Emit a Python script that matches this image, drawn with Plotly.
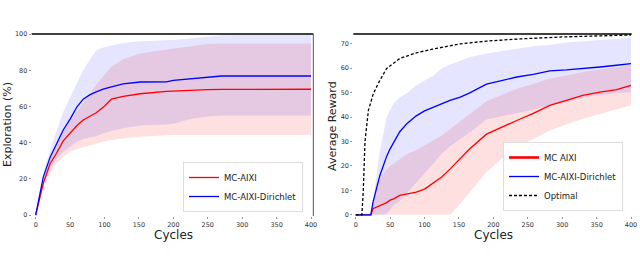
import plotly.graph_objects as go

# ---------------- Left panel: Exploration ----------------
left_x = [0, 11, 21, 30, 40, 50, 60, 69, 79, 88, 98, 110, 127, 152, 190, 200, 225, 250, 270, 300, 350, 400]
left_red_mean = [0, 17.5, 28.5, 34, 41, 45.5, 49.5, 52.5, 54.5, 56.5, 59.5, 64, 65.5, 67, 68.3, 68.5, 69, 69.3, 69.4, 69.5, 69.5, 69.5]
left_red_upper = [0, 19, 31, 38, 46, 52, 57, 62, 67, 72, 76.5, 82, 86, 89.3, 91.5, 92, 93.3, 94.5, 94.8, 94.8, 94.8, 94.8]
left_red_lower = [0, 15, 23, 28.5, 32.2, 35, 36.5, 37.5, 38.8, 39.6, 40.5, 41.4, 42.4, 43.3, 44, 44.2, 44.2, 44.2, 44.2, 44.2, 44.2, 44.2]
left_blue_mean = [0, 21, 32, 39.5, 47, 53, 59.8, 64, 66.5, 68, 69.5, 70.8, 72.5, 73.5, 73.6, 74.4, 75.3, 76, 76.8, 76.8, 76.8, 76.8]
left_blue_upper = [0, 23, 36, 46, 57, 65, 73, 80, 86, 91, 92.5, 93.5, 95, 96, 96.5, 96.7, 97.5, 98.3, 99.3, 99.4, 99.4, 99.4]
left_blue_lower = [0, 17, 26, 31, 35, 38, 40.5, 42, 43, 43.5, 45, 46.5, 48, 49.5, 50, 50.5, 53, 54.5, 55, 55, 55, 55]

# ---------------- Right panel: Average reward ----------------
opt_x = [0, 9, 11, 13.5, 18.4, 25.6, 35, 45, 64, 88, 112, 152, 190, 239, 300, 350, 400]
opt_y = [0, 0, 10, 30, 42.7, 49.6, 55, 59.9, 64, 66.3, 67.8, 70, 71.1, 72, 72.8, 73.2, 73.6]

right_x = [0, 22, 25, 30, 35, 40, 45, 50, 55, 64, 75, 88, 100, 113, 125, 137, 152, 165, 190, 215, 234, 258, 282, 306, 330, 355, 379, 400]
right_red_mean = [0, 0, 2.5, 3.1, 3.5, 4.2, 5, 6, 6.5, 7.9, 8.6, 9.3, 10.5, 13, 15.5, 18.7, 23, 26.8, 33, 36, 38.6, 41.5, 44.8, 46.8, 48.9, 50.2, 51.2, 53]
right_red_upper = [0, 0, 6, 12.8, 15, 17, 18.5, 20, 21, 23, 25, 26.4, 28.5, 30.5, 32.5, 35, 38, 41, 46.5, 49.5, 51.6, 53.5, 55.7, 57, 58.4, 59.5, 60.5, 61.2]
right_red_lower = [0, 0, 0, 0, 0, 0, 0, 0, 0, 0, 0, 0, 0, 0, 0, 0, 4.5, 9, 17.5, 23.5, 27.7, 31, 34.5, 37, 39.3, 41.3, 43, 44.8]
right_blue_mean = [0, 0, 5, 11, 16, 20, 24, 27, 29.5, 34, 37.5, 40.5, 42.5, 44, 45.5, 46.8, 48.2, 49.8, 53.5, 55, 56.4, 57.5, 58.9, 59.3, 59.8, 60.5, 61.2, 61.9]
right_blue_upper = [0, 0, 5, 16, 26, 33, 40, 43, 45.5, 48, 50, 53, 55, 57, 60, 61.5, 63, 64.5, 66, 67, 68, 69, 69.5, 70.5, 71, 71.5, 72, 72.5]
right_blue_lower = [0, 0, 0, 0, 0, 0, 0.5, 2, 4, 5.5, 9, 13, 17, 21, 25, 28, 31, 33.5, 39, 40.5, 41.4, 43, 44.8, 46, 48, 49, 49.8, 50.2]

x_ticks = [0, 50, 100, 150, 200, 250, 300, 350, 400]
left_y_ticks = [0, 20, 40, 60, 80, 100]
right_y_ticks = [0, 10, 20, 30, 40, 50, 60, 70]

RED = "#ff0000"
BLUE = "#0000ff"
RED_FILL = "rgba(255,0,0,0.12)"
BLUE_FILL = "rgba(0,0,255,0.10)"
FONT = "DejaVu Sans"

fig = go.Figure()


def band(x, up, lo, fill, xa, ya):
    fig.add_trace(go.Scatter(x=x, y=up, mode="lines", line=dict(width=0, color=fill),
                             showlegend=False, hoverinfo="skip", xaxis=xa, yaxis=ya))
    fig.add_trace(go.Scatter(x=x, y=lo, mode="lines", line=dict(width=0, color=fill),
                             fill="tonexty", fillcolor=fill, showlegend=False,
                             hoverinfo="skip", xaxis=xa, yaxis=ya))


# left bands and lines
band(left_x, left_red_upper, left_red_lower, RED_FILL, "x", "y")
band(left_x, left_blue_upper, left_blue_lower, BLUE_FILL, "x", "y")
fig.add_trace(go.Scatter(x=left_x, y=left_red_mean, mode="lines", name="MC-AIXI",
                         line=dict(color=RED, width=1.3), xaxis="x", yaxis="y", legend="legend"))
fig.add_trace(go.Scatter(x=left_x, y=left_blue_mean, mode="lines", name="MC-AIXI-Dirichlet",
                         line=dict(color=BLUE, width=1.3), xaxis="x", yaxis="y", legend="legend"))

# right bands and lines
band(right_x, right_red_upper, right_red_lower, RED_FILL, "x2", "y2")
band(right_x, right_blue_upper, right_blue_lower, BLUE_FILL, "x2", "y2")
fig.add_trace(go.Scatter(x=right_x, y=right_red_mean, mode="lines", name="MC AIXI", showlegend=False,
                         line=dict(color=RED, width=1.3), xaxis="x2", yaxis="y2"))
# legend entry of the red curve is drawn thicker in the original
fig.add_trace(go.Scatter(x=[None], y=[None], mode="lines", name="MC AIXI",
                         line=dict(color=RED, width=2.6), xaxis="x2", yaxis="y2", legend="legend2"))
fig.add_trace(go.Scatter(x=right_x, y=right_blue_mean, mode="lines", name="MC-AIXI-Dirichlet",
                         line=dict(color=BLUE, width=1.3), xaxis="x2", yaxis="y2", legend="legend2"))
fig.add_trace(go.Scatter(x=opt_x, y=opt_y, mode="lines", name="Optimal",
                         line=dict(color="black", width=1.3, dash="3px,2px"), xaxis="x2", yaxis="y2",
                         legend="legend2"))

W, H = 640, 274
ydom = [1 - 216 / H, 1 - 34 / H]

tickfont = dict(family=FONT, size=6.5, color="#333333")
axis_common = dict(showgrid=False, zeroline=False, showline=False, ticks="outside", ticklen=2,
                   tickcolor="#999999", tickfont=tickfont, automargin=False, fixedrange=True)

legend_common = dict(font=dict(family=FONT, size=8.5, color="#222222"), bgcolor="white",
                     bordercolor="#dddddd", borderwidth=1, xanchor="left", yanchor="bottom",
                     itemwidth=30, tracegroupgap=0, traceorder="normal")

fig.update_layout(
    width=W, height=H,
    margin=dict(l=0, r=0, t=0, b=0),
    paper_bgcolor="white", plot_bgcolor="white",
    xaxis=dict(domain=[31.7 / W, 313.3 / W], range=[-5.8, 403.3], tickvals=x_ticks, anchor="y", **axis_common),
    yaxis=dict(domain=ydom, range=[-0.5, 100], tickvals=left_y_ticks, anchor="x", **axis_common),
    xaxis2=dict(domain=[353.3 / W, 631.7 / W], range=[-3.5, 401], tickvals=x_ticks, anchor="y2", **axis_common),
    yaxis2=dict(domain=ydom, range=[-0.5, 74.0], tickvals=right_y_ticks, anchor="x2", **axis_common),
    legend=dict(x=183 / W, y=1 - 212 / H, **legend_common),
    legend2=dict(x=503 / W, y=1 - 211 / H, **legend_common),
    showlegend=True,
    shapes=[
        dict(type="line", xref="x domain", yref="y domain", x0=0, x1=1, y0=1, y1=1,
             line=dict(color="black", width=1.5)),
        dict(type="line", xref="x domain", yref="y domain", x0=1, x1=1, y0=0, y1=1,
             line=dict(color="#555555", width=1)),
        dict(type="line", xref="x2 domain", yref="y2 domain", x0=0, x1=1, y0=1, y1=1,
             line=dict(color="black", width=1.5)),
    ],
    annotations=[
        dict(text="Cycles", xref="paper", yref="paper", x=173 / W, y=1 - 235 / H, showarrow=False,
             font=dict(family=FONT, size=12, color="#222222"), xanchor="center", yanchor="middle"),
        dict(text="Cycles", xref="paper", yref="paper", x=493 / W, y=1 - 235 / H, showarrow=False,
             font=dict(family=FONT, size=12, color="#222222"), xanchor="center", yanchor="middle"),
        dict(text="Exploration (%)", xref="paper", yref="paper", x=7 / W, y=1 - 125 / H, showarrow=False,
             textangle=-90, font=dict(family=FONT, size=11, color="#222222"), xanchor="center", yanchor="middle"),
        dict(text="Average Reward", xref="paper", yref="paper", x=332 / W, y=1 - 126 / H, showarrow=False,
             textangle=-90, font=dict(family=FONT, size=11, color="#222222"), xanchor="center", yanchor="middle"),
    ],
)

fig.write_html("out.html", config={"displayModeBar": False},
               post_script="document.body.style.margin='0px';")
